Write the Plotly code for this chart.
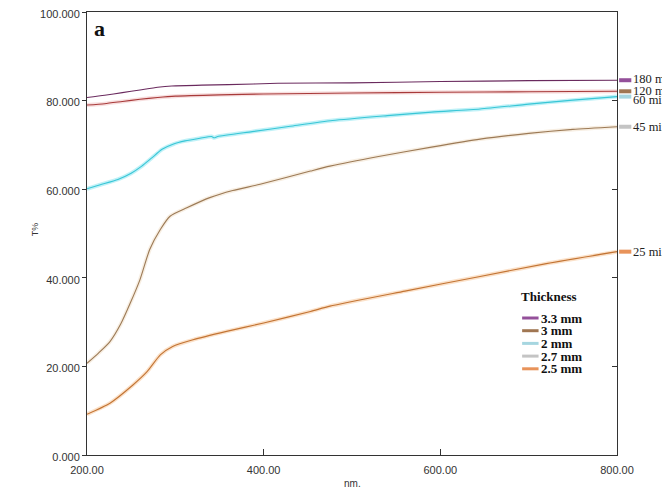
import plotly.graph_objects as go

# ---- data ----
times = ["180 min", "120 min", "60 min", "45 min", "25 min"]
thickness = ["3.3 mm", "3 mm", "2 mm", "2.7 mm", "2.5 mm"]

wl_180 = [200, 220, 240, 260, 280, 296, 330, 360, 416, 500, 600, 700, 800]
t_180 = [80.7, 81.2, 81.8, 82.4, 83.0, 83.3, 83.5, 83.6, 83.9, 84.0, 84.3, 84.5, 84.6]

wl_120 = [200, 220, 240, 260, 280, 300, 350, 400, 500, 600, 700, 800]
t_120 = [79.0, 79.3, 79.8, 80.3, 80.7, 81.0, 81.3, 81.5, 81.7, 81.9, 82.0, 82.1]

wl_60 = [200, 215, 235, 250, 262, 273, 285, 298, 311, 328, 341, 344, 348, 387, 430,
         478, 540, 590, 645, 700, 750, 800]
t_60 = [60.1, 61.0, 62.2, 63.6, 65.2, 67.0, 69.0, 70.2, 70.9, 71.5, 71.9, 71.6, 71.9,
        73.0, 74.2, 75.5, 76.6, 77.4, 78.1, 79.2, 80.1, 80.9]

wl_45 = [200, 213, 226, 238, 249, 260, 271, 283, 294, 313, 339, 365, 396, 453, 475,
         530, 590, 645, 700, 750, 800]
t_45 = [20.7, 23.0, 25.6, 29.5, 34.3, 39.6, 46.4, 50.9, 53.9, 55.8, 58.1, 59.7, 61.1,
        64.1, 65.2, 67.4, 69.5, 71.3, 72.6, 73.5, 74.1]

wl_25 = [200, 226, 252, 268, 283, 297, 320, 358, 400, 453, 475, 560, 645, 720, 800]
t_25 = [9.2, 11.7, 15.8, 18.8, 22.6, 24.5, 26.0, 27.9, 29.8, 32.4, 33.6, 37.0, 40.3,
        43.2, 45.9]

x_ticks = [200, 400, 600, 800]
x_ticklabels = ["200.00", "400.00", "600.00", "800.00"]
y_ticks = [0, 20, 40, 60, 80, 100]
y_ticklabels = ["0.000", "20.000", "40.000", "60.000", "80.000", "100.000"]

# ---- styles ----
series = [(wl_180, t_180), (wl_120, t_120), (wl_60, t_60), (wl_45, t_45), (wl_25, t_25)]
line_colors = ["#6a2a5e", "#a83a3a", "#38c6d6", "#9c7a56", "#c27434"]
halo_colors = [None, "rgba(230,150,150,0.30)", "rgba(140,230,240,0.55)",
               "rgba(230,200,160,0.30)", "rgba(245,180,120,0.40)"]
swatch_colors = ["#94509a", "#a07652", "#a6d6e0", "#c4c4c4", "#e8935a"]
label_yshift = [1, 0, -3, 0, 0]

fig = go.Figure()

for (wl, t), lc, hc in zip(series, line_colors, halo_colors):
    if hc:
        fig.add_trace(go.Scatter(x=wl, y=t, mode="lines", line=dict(color=hc, width=4, shape="spline", smoothing=0.6),
                                 showlegend=False, hoverinfo="skip"))
    fig.add_trace(go.Scatter(x=wl, y=t, mode="lines", line=dict(color=lc, width=1.1, shape="spline", smoothing=0.6),
                             showlegend=False))

# invisible trace on a right-hand axis for inner ticks
fig.add_trace(go.Scatter(x=wl_25, y=t_25, yaxis="y2", mode="lines",
                         line=dict(color="rgba(0,0,0,0)", width=0), showlegend=False, hoverinfo="skip"))

serif = "Liberation Serif, Times New Roman, serif"
sans = "Liberation Sans, Arial, sans-serif"

annotations = []
shapes = []

# right-edge labels
for name, (wl, t), sc, ys in zip(times, series, swatch_colors, label_yshift):
    yv = t[-1]
    shapes.append(dict(type="line", xref="paper", yref="y", x0=1.004, x1=1.027, y0=yv, y1=yv,
                       line=dict(color=sc, width=4)))
    annotations.append(dict(xref="paper", yref="y", x=1.027, y=yv, yshift=ys, text=name,
                            showarrow=False, xanchor="left", yanchor="middle",
                            font=dict(family=serif, size=12.5, color="#222")))

# manual legend (pixel positions relative to the plot area)
plot_top = 12
plot_h = 443.0


def py(px):
    return (plot_top + plot_h - px) / plot_h


annotations.append(dict(xref="paper", yref="paper", x=0.815, y=py(296),
                        text="<b>Thickness</b>", showarrow=False, xanchor="left", yanchor="middle",
                        font=dict(family=serif, size=13, color="#111")))
for i, (name, sc) in enumerate(zip(thickness, swatch_colors)):
    yp = py(318 + i * 12.7)
    shapes.append(dict(type="line", xref="paper", yref="paper", x0=0.821, x1=0.852, y0=yp, y1=yp,
                       line=dict(color=sc, width=3)))
    annotations.append(dict(xref="paper", yref="paper", x=0.853, y=yp, text="<b>" + name + "</b>",
                            showarrow=False, xanchor="left", yanchor="middle",
                            font=dict(family=serif, size=13, color="#111")))

# panel letter
annotations.append(dict(xref="paper", yref="paper", x=0.010, y=py(28), text="<b>a</b>",
                        showarrow=False, xanchor="left", yanchor="middle",
                        font=dict(family=serif, size=22, color="#111")))
# axis titles
annotations.append(dict(xref="paper", yref="paper", x=-0.098, y=0.51, text="T%", textangle=-90,
                        showarrow=False, xanchor="center", yanchor="middle",
                        font=dict(family=sans, size=9, color="#333")))
annotations.append(dict(xref="paper", yref="paper", x=0.5, y=py(483), text="nm.",
                        showarrow=False, xanchor="center", yanchor="middle",
                        font=dict(family=sans, size=10, color="#333")))

# the page body adds an 8px offset, compensate in the margins
off = 8
fig.update_layout(
    width=662, height=483,
    margin=dict(l=87 - off, r=53, t=12 - off, b=36, autoexpand=False),
    paper_bgcolor="white", plot_bgcolor="white",
    showlegend=False,
    xaxis=dict(range=[200, 800], tickvals=x_ticks, ticktext=x_ticklabels, ticks="inside", ticklen=6,
               tickcolor="#333", showline=True, linecolor="#333", linewidth=1, mirror=True,
               showgrid=False, zeroline=False, ticklabelstandoff=5, automargin=False,
               ticklabeloverflow="allow",
               tickfont=dict(family=sans, size=11, color="#333")),
    yaxis=dict(range=[0, 100], tickvals=y_ticks, ticktext=y_ticklabels, ticks="outside", ticklen=4,
               tickcolor="#333", showline=True, linecolor="#333", linewidth=1, mirror=True,
               showgrid=False, zeroline=False, automargin=False, ticklabeloverflow="allow",
               ticklabelshift=2,
               tickfont=dict(family=sans, size=11, color="#333")),
    yaxis2=dict(range=[0, 100], overlaying="y", side="right", tickvals=y_ticks, ticks="inside",
                ticklen=5, tickcolor="#333", showticklabels=False, showgrid=False, zeroline=False,
                showline=False, automargin=False),
    annotations=annotations,
    shapes=shapes,
)

fig.write_html("out.html")
